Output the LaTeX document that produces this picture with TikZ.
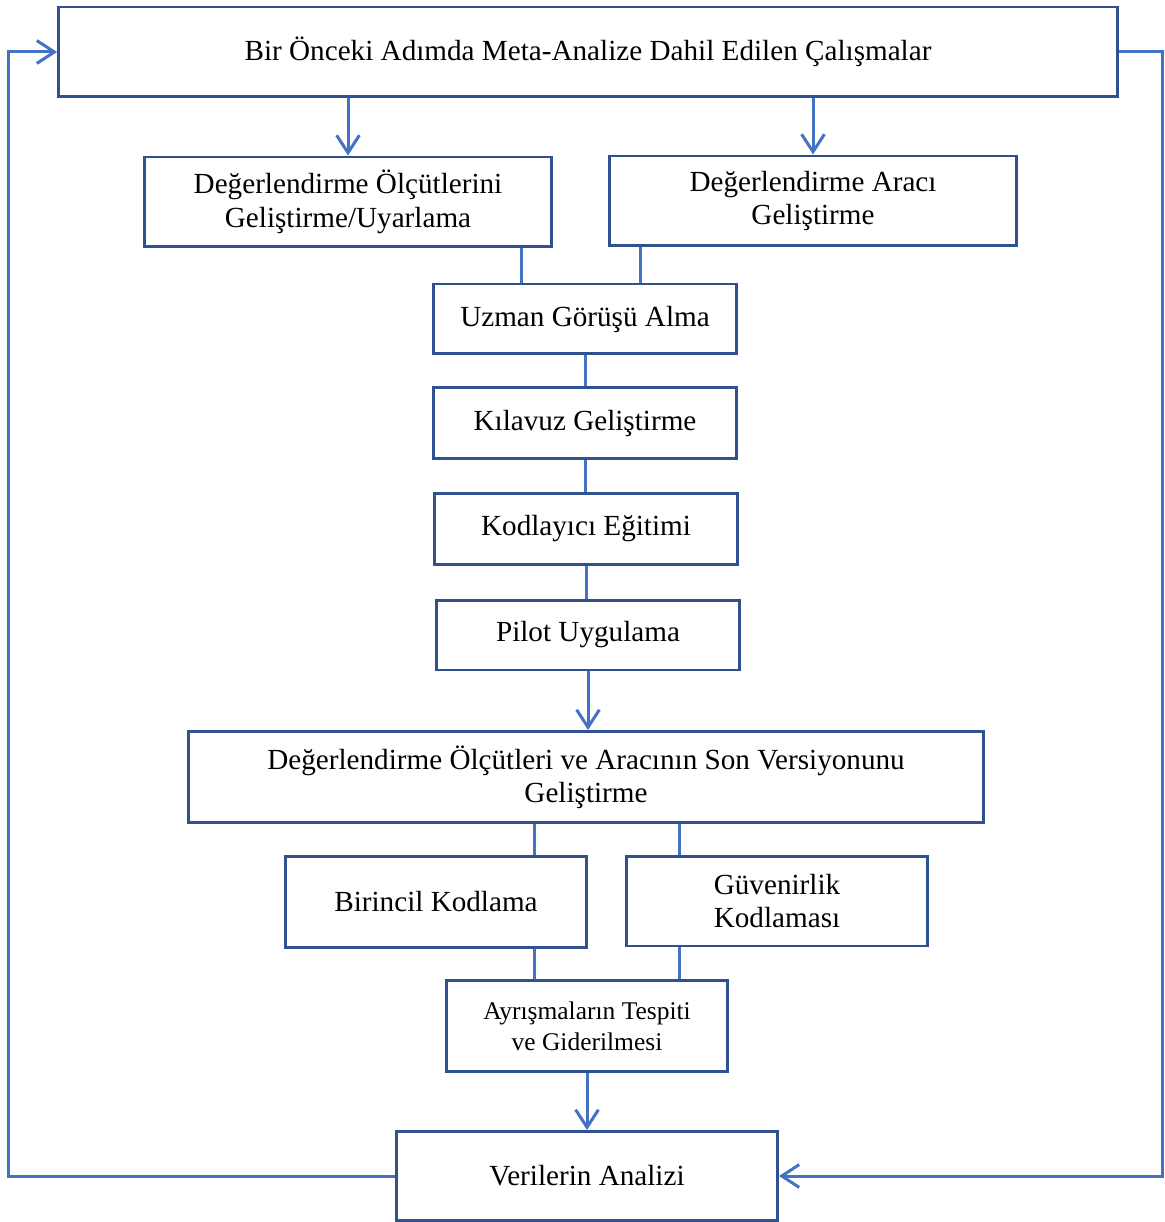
\documentclass[tikz,border=0pt]{standalone}
\usepackage{fontspec}
\setmainfont{Liberation Serif}
\usetikzlibrary{arrows.meta}
\definecolor{boxblue}{HTML}{2F528F}
\definecolor{lineblue}{HTML}{4472C4}

\begin{document}
\begin{tikzpicture}[x=0.02cm, y=-0.02cm,
    stepbox/.style={draw=boxblue, line width=1.7pt, align=center, inner sep=0pt,
      font=\fontsize{16.6}{19}\selectfont},
    link/.style={lineblue, line width=1.7pt},
    arr/.style={link, -{Straight Barb[length=10pt,width=13pt]}}]
      \useasboundingbox (0,0) rectangle (1164,1222);

      \node[stepbox, minimum width=21.18cm, minimum height=1.8cm] (top) at (588,52)
        {Bir Önceki Adımda Meta-Analize Dahil Edilen Çalışmalar};
      \node[stepbox, minimum width=8.16cm, minimum height=1.8cm] (olcut) at (348,202)
        {Değerlendirme Ölçütlerini\\Geliştirme/Uyarlama};
      \node[stepbox, minimum width=8.16cm, minimum height=1.8cm] (arac) at (813,201)
        {Değerlendirme Aracı\\Geliştirme};
      \node[stepbox, minimum width=6.06cm, minimum height=1.4cm] (uzman) at (585,319)
        {Uzman Görüşü Alma};
      \node[stepbox, minimum width=6.06cm, minimum height=1.42cm] (kilavuz) at (585,423)
        {Kılavuz Geliştirme};
      \node[stepbox, minimum width=6.06cm, minimum height=1.42cm] (kodlayici) at (586,529)
        {Kodlayıcı Eğitimi};
      \node[stepbox, minimum width=6.08cm, minimum height=1.4cm] (pilot) at (588,635)
        {Pilot Uygulama};
      \node[stepbox, minimum width=15.92cm, minimum height=1.82cm] (sonver) at (586,777)
        {Değerlendirme Ölçütleri ve Aracının Son Versiyonunu\\Geliştirme};
      \node[stepbox, minimum width=6.04cm, minimum height=1.82cm] (birincil) at (436,902)
        {Birincil Kodlama};
      \node[stepbox, minimum width=6.04cm, minimum height=1.8cm] (guven) at (777,901)
        {Güvenirlik\\Kodlaması};
      \node[stepbox, minimum width=5.62cm, minimum height=1.82cm,
        font=\fontsize{14.5}{17.5}\selectfont] (ayrisma) at (587,1026)
        {Ayrışmaların Tespiti\\ve Giderilmesi};
      \node[stepbox, minimum width=7.62cm, minimum height=1.78cm] (analiz) at (587,1176)
        {Verilerin Analizi};

      % arrows from the top box
      \draw[arr] (top.south -| olcut.north) -- (olcut.north);
      \draw[arr] (top.south -| arac.north) -- (arac.north);

      % plain joins
      \coordinate (o1) at ([xshift=-0.64cm]olcut.south east);
      \coordinate (a1) at ([xshift=0.66cm]arac.south west);
      \draw[link] (o1) -- (o1 |- uzman.north);
      \draw[link] (a1) -- (a1 |- uzman.north);
      \draw[link] (uzman.south) -- (uzman.south |- kilavuz.north);
      \draw[link] (kilavuz.south) -- (kilavuz.south |- kodlayici.north);
      \draw[link] (kodlayici.south) -- (kodlayici.south |- pilot.north);
      \draw[arr] (pilot.south) -- (pilot.south |- sonver.north);

      \coordinate (b1) at ([xshift=-1.08cm]birincil.south east);
      \coordinate (g1) at ([xshift=1.1cm]guven.south west);
      \draw[link] (b1 |- sonver.south) -- (b1 |- birincil.north);
      \draw[link] (g1 |- sonver.south) -- (g1 |- guven.north);
      \draw[link] (b1) -- (b1 |- ayrisma.north);
      \draw[link] (g1) -- (g1 |- ayrisma.north);
      \draw[arr] (ayrisma.south) -- (ayrisma.south |- analiz.north);

      % loops back
      \coordinate (lback) at ([xshift=-0.98cm]top.west);
      \coordinate (rback) at ([xshift=0.88cm]top.east);
      \draw[arr] (analiz.west) -| (lback) -- (top.west);
      \draw[arr] (top.east) -- (rback) |- (analiz.east);

    \end{tikzpicture}
\end{document}
